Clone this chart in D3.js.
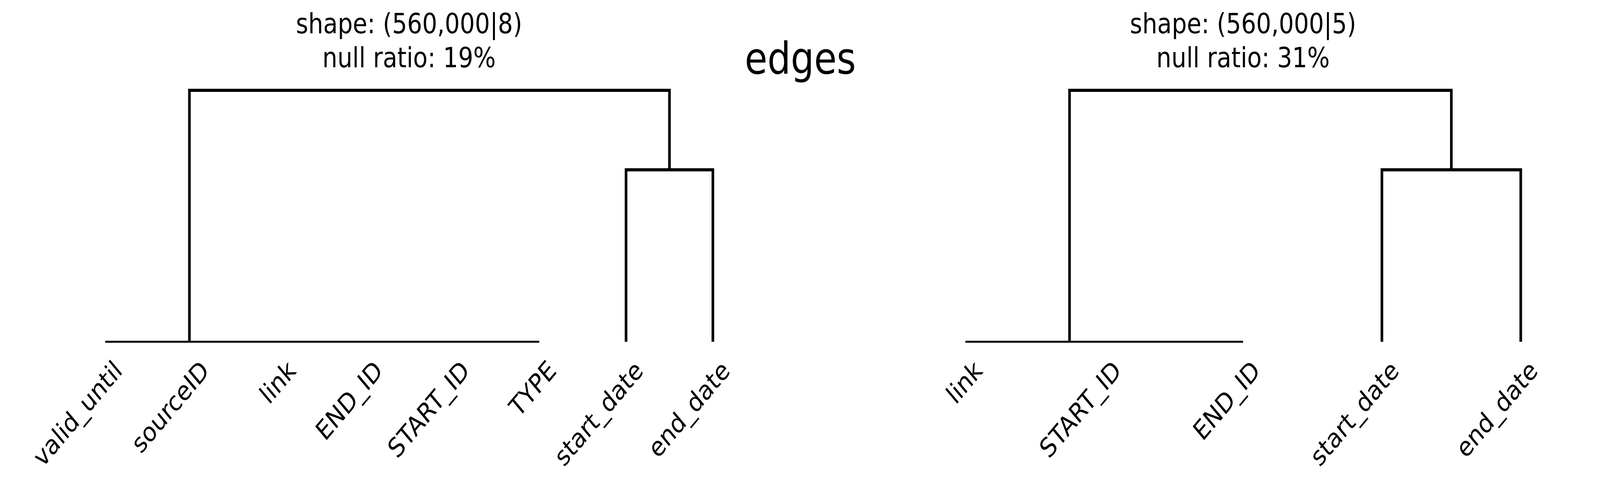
<!DOCTYPE html>
<html>
<head>
<meta charset="utf-8">
<script src="https://d3js.org/d3.v7.min.js"></script>
<style>
  html, body { margin: 0; padding: 0; width: 100%; height: 100%; overflow: hidden; background: #fff; }
  svg { display: block; width: 100vw; height: 100vh; }
  text { font-family: "DejaVu Sans", sans-serif; fill: #000; }
</style>
</head>
<body>
<svg id="chart" viewBox="0 0 4866 1248" preserveAspectRatio="none"></svg>
<script>
// edges dendrograms (missingno style)
const leftLeaves = ['valid_until', 'sourceID', 'link', 'END_ID', 'START_ID', 'TYPE', 'start_date', 'end_date'];
const rightLeaves = ['link', 'START_ID', 'END_ID', 'start_date', 'end_date'];

// links: [x left, x right, height left, height right, height top] in leaf index units
const leftLinks = [
  [6, 7, 0, 0, 0.684],
  [0.97, 6.5, 0, 0.684, 1.0]
];
const rightLinks = [
  [3, 4, 0, 0, 0.684],
  [0.75, 3.5, 0, 0.684, 1.0]
];
// leaves sitting at distance 0 (flat line)
const leftZero = [0, 5];
const rightZero = [0, 2];

const leftTitle = ['shape: (560,000|8)', 'null ratio: 19%'];
const rightTitle = ['shape: (560,000|5)', 'null ratio: 31%'];

const svg = d3.select('svg#chart');

svg.append('text')
  .attr('x', 2434).attr('y', 188)
  .attr('text-anchor', 'middle')
  .style('font-size', '112px')
  .text('edges');

function drawPanel(leaves, links, zero, title, x0, x1) {
  let g = svg.append('g');
  let x = d3.scaleLinear().domain([0, leaves.length - 1]).range([x0, x1]);
  let y = d3.scaleLinear().domain([0, 1]).range([874, 231]);

  title.forEach(function(t, i) {
    g.append('text')
      .attr('x', (x0 + x1) / 2)
      .attr('y', 85 + i * 87)
      .attr('text-anchor', 'middle')
      .style('font-size', '72px')
      .text(t);
  });

  g.append('line')
    .attr('x1', x(zero[0])).attr('x2', x(zero[1]))
    .attr('y1', y(0)).attr('y2', y(0))
    .attr('stroke', '#000').attr('stroke-width', 5);

  g.selectAll('path.link')
    .data(links)
    .enter().append('path')
    .attr('class', 'link')
    .attr('fill', 'none')
    .attr('stroke', '#000')
    .attr('stroke-width', 8)
    .attr('d', function(d) {
      return 'M' + x(d[0]) + ',' + y(d[2]) +
        'L' + x(d[0]) + ',' + y(d[4]) +
        'L' + x(d[1]) + ',' + y(d[4]) +
        'L' + x(d[1]) + ',' + y(d[3]);
    });

  g.selectAll('text.leaf')
    .data(leaves)
    .enter().append('text')
    .attr('class', 'leaf')
    .attr('text-anchor', 'end')
    .attr('transform', function(d, i) { return 'translate(' + (x(i) + 22) + ',918) rotate(-45)'; })
    .attr('dy', '0.7em')
    .style('font-size', '68px')
    .text(function(d) { return d; });
}

drawPanel(leftLeaves, leftLinks, leftZero, leftTitle, 320, 2168);
drawPanel(rightLeaves, rightLinks, rightZero, rightTitle, 2936, 4625);
</script>
</body>
</html>
